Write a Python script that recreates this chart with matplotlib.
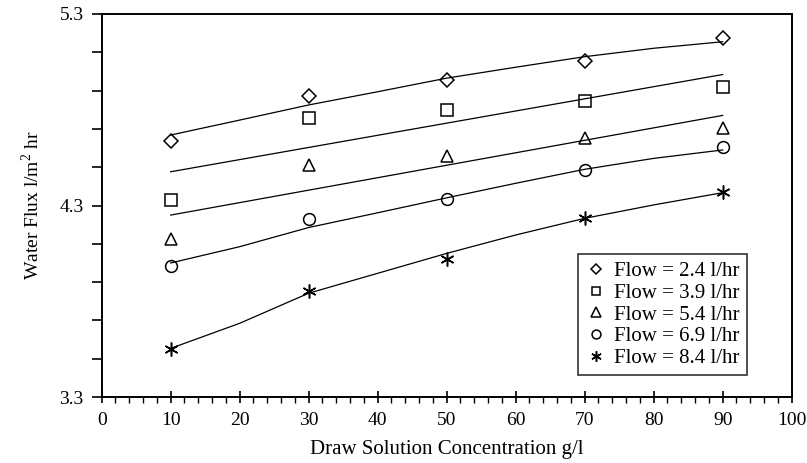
import numpy as np
import matplotlib
matplotlib.use('Agg')
import matplotlib.pyplot as plt
from matplotlib.ticker import MultipleLocator, FixedLocator

plt.rcParams['font.family'] = ['Liberation Serif', 'DejaVu Serif']
plt.rcParams['mathtext.fontset'] = 'custom'
plt.rcParams['mathtext.rm'] = 'Liberation Serif'

# measured points
conc = [10, 30, 50, 70, 90]
flux_24 = [4.637, 4.872, 4.955, 5.055, 5.175]
flux_39 = [4.329, 4.757, 4.799, 4.846, 4.919]
flux_54 = [4.125, 4.511, 4.558, 4.652, 4.705]
flux_69 = [3.984, 4.229, 4.334, 4.485, 4.605]
flux_84 = [3.551, 3.854, 4.021, 4.235, 4.371]

# model curves
conc_fit = [10, 20, 30, 40, 50, 60, 70, 80, 90]
fit_24 = [4.668, 4.746, 4.825, 4.894, 4.965, 5.022, 5.077, 5.121, 5.155]
fit_69 = [4.000, 4.085, 4.185, 4.262, 4.340, 4.416, 4.489, 4.546, 4.590]
fit_84 = [3.554, 3.685, 3.842, 3.946, 4.050, 4.146, 4.233, 4.303, 4.367]

labels = ['Flow = 2.4 l/hr', 'Flow = 3.9 l/hr', 'Flow = 5.4 l/hr',
          'Flow = 6.9 l/hr', 'Flow = 8.4 l/hr']

fig = plt.figure(figsize=(8.07, 4.63), dpi=100)
ax = fig.add_axes([0.126, 0.1425, 0.855, 0.8273])

lw = 0.9
# curves
ax.plot(conc_fit, fit_24, color='black', lw=lw)
ax.plot(conc_fit, fit_69, color='black', lw=lw)
ax.plot(conc_fit, fit_84, color='black', lw=lw)
# straight trend lines (least squares on the points)
xx = np.array([conc[0], conc[-1]])
for ys in (flux_39, flux_54):
    p = np.polyfit(conc, ys, 1)
    ax.plot(xx, np.polyval(p, xx), color='black', lw=lw)

mk = dict(color='black', mfc='none', mec='black', ls='none', mew=1.1)
ax.plot(conc, flux_24, marker='D', ms=7, label=labels[0], **mk)
ax.plot(conc, flux_39, marker='s', ms=8, label=labels[1], **mk)
ax.plot(conc, flux_54, marker='^', ms=9, label=labels[2], **mk)
ax.plot(conc, flux_69, marker='o', ms=8.5, label=labels[3], **mk)
ax.plot(conc, flux_84, marker=(6, 2, 0), ms=10, label=labels[4], **mk)

ax.set_xlim(0, 100)
ax.set_ylim(3.3, 5.3)
ax.xaxis.set_major_locator(MultipleLocator(10))
ax.xaxis.set_minor_locator(MultipleLocator(2))
ax.yaxis.set_major_locator(FixedLocator([3.3, 4.3, 5.3]))
ax.yaxis.set_minor_locator(FixedLocator(np.arange(3.5, 5.3, 0.2)))
ax.set_yticklabels(['3.3', '4.3', '5.3'])

ax.tick_params(axis='x', which='major', direction='inout', length=9, width=1.2,
               labelsize=14, pad=6)
ax.tick_params(axis='x', which='minor', direction='out', length=4, width=1.0)
ax.tick_params(axis='y', which='both', direction='out', length=7, width=1.2,
               labelsize=14, pad=6)
for s in ax.spines.values():
    s.set_linewidth(1.4)

ax.set_xlabel('Draw Solution Concentration g/l', fontsize=15, labelpad=8)
ax.set_ylabel(r'Water Flux l/m$^{2}$ hr', fontsize=14, labelpad=12)

leg = ax.legend(loc='lower right', bbox_to_anchor=(0.935, 0.057), borderaxespad=0,
                fontsize=15, frameon=True, fancybox=False, handlelength=1.0,
                handletextpad=0.35, labelspacing=0.1, borderpad=0.35,
                markerscale=0.75)
leg.get_frame().set_edgecolor('black')
leg.get_frame().set_linewidth(1.2)

fig.savefig('out.png', dpi=100)
